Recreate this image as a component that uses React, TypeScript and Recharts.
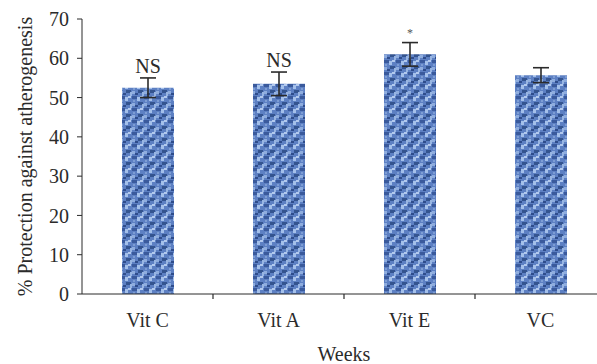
import React from "react";
import { BarChart, Bar, XAxis, YAxis, ErrorBar, LabelList } from "recharts";

const groups = ["Vit C", "Vit A", "Vit E", "VC"];
const protection = [52.5, 53.5, 61, 55.7];
const errors = [2.5, 3, 3, 1.9];
const marks = ["NS", "NS", "*", ""];
const yTicks = [0, 10, 20, 30, 40, 50, 60, 70];

const data = groups.map((g, i) => ({
  name: g,
  value: protection[i],
  err: errors[i],
  top: protection[i] + errors[i],
  mark: marks[i],
}));

const FONT = "'Liberation Serif', 'DejaVu Serif', serif";
const INK = "#2b2b2b";

function CatTick(props: any) {
  const { x, y, payload } = props;
  const half = payload?.offset ?? 65.5;
  return (
    <g>
      {payload.index > 0 && (
        <line x1={x - half} x2={x - half} y1={y} y2={y + 5} stroke={INK} strokeWidth={1.2} />
      )}
      <text x={x} y={y + 33} textAnchor="middle" fill={INK} fontSize={20} fontFamily={FONT}>
        {payload.value}
      </text>
    </g>
  );
}

function MarkLabel(props: any) {
  const { x, y, width, value } = props;
  if (!value) return null;
  const star = value === "*";
  return (
    <text
      x={x + width / 2}
      y={y - (star ? 6 : 5)}
      textAnchor="middle"
      fill={star ? "#555" : INK}
      fontSize={star ? 12 : 20}
      fontFamily={FONT}
    >
      {value}
    </text>
  );
}

export default function App() {
  return (
    <div style={{ position: "absolute", left: 0, top: 0, width: 597, height: 364, overflow: "hidden", background: "#fff" }}>
      <BarChart
        width={620}
        height={364}
        data={data}
        margin={{ top: 19, right: 14, left: 30, bottom: 0 }}
        barGap={-52}
      >
        <defs>
          <pattern id="weave" width="12" height="12" patternUnits="userSpaceOnUse">
            <rect width="12" height="12" fill="#5d80c3" />
            <rect x="0" y="0" width="5" height="3" fill="#3a5a9c" />
            <rect x="6" y="6" width="5" height="3" fill="#34548f" />
            <rect x="5" y="1" width="3" height="4" fill="#a4c0ea" />
            <rect x="10" y="8" width="2" height="4" fill="#98b5e2" />
            <rect x="0" y="7" width="3" height="3" fill="#8fadde" />
            <rect x="8" y="0" width="3" height="2" fill="#b2c9ee" />
            <rect x="3" y="9" width="3" height="2" fill="#2f4d8c" />
            <rect x="1" y="4" width="2" height="2" fill="#7d9dd4" />
          </pattern>
        </defs>
        <XAxis
          dataKey="name"
          stroke={INK}
          tickLine={false}
          tickSize={0}
          tickMargin={0}
          height={70}
          tick={<CatTick />}
          label={{ value: "Weeks", position: "insideBottom", offset: 3, fill: INK, fontSize: 20, fontFamily: FONT }}
        />
        <YAxis
          domain={[0, 70]}
          ticks={yTicks}
          width={52}
          stroke={INK}
          tickSize={5}
          tickMargin={8}
          tick={{ fill: INK, fontSize: 20, fontFamily: FONT }}
          label={{
            value: "% Protection against atherogenesis",
            angle: -90,
            position: "insideLeft",
            offset: -5,
            style: { textAnchor: "middle" },
            fill: INK,
            fontSize: 20,
            fontFamily: FONT,
          }}
        />
        <Bar dataKey="value" fill="url(#weave)" barSize={52} isAnimationActive={false}>
          <ErrorBar dataKey="err" width={8} stroke={INK} strokeWidth={1.6} />
        </Bar>
        <Bar dataKey="top" fill="none" barSize={52} isAnimationActive={false}>
          <LabelList dataKey="mark" content={<MarkLabel />} />
        </Bar>
      </BarChart>
    </div>
  );
}
